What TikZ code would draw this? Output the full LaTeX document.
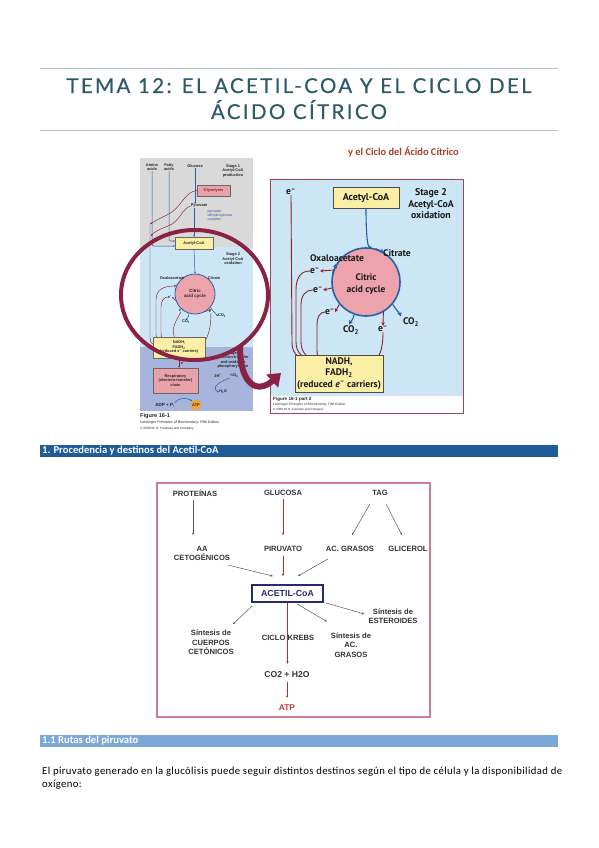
\documentclass[tikz,border=0pt]{standalone}
\usepackage{fontspec}
\setmainfont{Carlito}
\newfontfamily\titlef[LetterSpace=11.5,FakeBold=0.4]{Lato}
\newfontfamily\parf[LetterSpace=3.5]{Carlito}
\newfontfamily\arialf{Liberation Sans}
\newfontfamily\ptf{PT Sans}
\usetikzlibrary{arrows.meta,calc}
\definecolor{titleteal}{HTML}{2B5B6B}
\definecolor{rulegray}{HTML}{B4C4CC}
\definecolor{panelgray}{HTML}{D9D9D9}
\definecolor{panelblue}{HTML}{CCE6F5}
\definecolor{panelviolet}{HTML}{A7B4DB}
\definecolor{cyclepink}{HTML}{EDA3AC}
\definecolor{boxyellow}{HTML}{FBEFA6}
\definecolor{boxpink}{HTML}{E9A2AA}
\definecolor{cycleblue}{HTML}{2A5FA5}
\definecolor{ered}{HTML}{8E1F2B}
\definecolor{ringmaroon}{HTML}{8A2343}
\definecolor{barone}{HTML}{1F5B99}
\definecolor{bartwo}{HTML}{7CA8D8}
\definecolor{diagborder}{HTML}{C77F95}
\definecolor{navy}{HTML}{252B6E}
\definecolor{atpred}{HTML}{CC3838}
\definecolor{handred}{HTML}{A83C2E}
\definecolor{atporange}{HTML}{F2A23C}
\definecolor{txtgray}{HTML}{333333}
\pgfdeclarelayer{back}
\pgfdeclarelayer{lines}
\pgfsetlayers{back,lines,main}
\tikzset{
  titlest/.style={font=\titlef\fontsize{20.5}{24}\selectfont, text=titleteal, inner sep=0, anchor=base},
  tl/.style={font=\arialf\bfseries\fontsize{3.9}{4.5}\selectfont, align=center, inner sep=0, text=black!85},
  fl/.style={font=\ptf\bfseries\fontsize{9.6}{11.5}\selectfont, align=center, inner sep=0, text=black!90},
  dl/.style={font=\arialf\bfseries\fontsize{7.6}{9.4}\selectfont, align=center, inner sep=0, text=txtgray},
  barlab/.style={font=\bfseries\fontsize{10.6}{12}\selectfont, text=white, inner sep=0, anchor=west},
  capt/.style={inner sep=0, anchor=west, text=black!85},
  sbl/.style={draw=cycleblue, line width=0.5pt, -{Stealth[length=2pt,width=1.8pt]}},
  srl/.style={draw=ered, line width=0.45pt, -{Stealth[length=2pt,width=1.8pt]}},
  bla/.style={draw=cycleblue, line width=1.1pt, -{Stealth[length=4.5pt,width=4.5pt]}},
  rra/.style={draw=ered, line width=0.9pt, -{Stealth[length=3.5pt,width=3.5pt]}},
  gar/.style={draw=black!65, line width=0.5pt, -{Stealth[length=2.5pt,width=2.2pt]}},
  gra/.style={draw=atpred!85!black, line width=0.5pt, -{Stealth[length=2.5pt,width=2.2pt]}},
  ybox/.style={fill=boxyellow, draw=black!70, line width=0.6pt},
}
\begin{document}
\begin{tikzpicture}[x=1pt,y=-1pt]
\useasboundingbox (0,0) rectangle (599,848);
\begin{pgfonlayer}{back}
\fill[white] (0,0) rectangle (599,848);
% left panel backgrounds
\fill[panelgray] (140,158) rectangle (253,247);
\fill[panelblue] (140,247) rectangle (253,347);
\fill[panelviolet] (140,347) rectangle (253,411);
% right panel
\fill[panelblue] (270,179) rectangle (463,396);
\draw[ringmaroon!85, line width=0.8pt] (270,179) rectangle (463,413);
% bars
\fill[barone] (40,445) rectangle (558,457);
\fill[bartwo] (40,735) rectangle (558,747);
\draw[diagborder, line width=1.2pt] (157,483) rectangle (430,717);
\end{pgfonlayer}

% ---------------- TITLE ----------------
\draw[rulegray, line width=0.8pt] (40,68) -- (558,68);
\draw[rulegray, line width=0.8pt] (40,130) -- (558,130);
\node[titlest] (title1) at (299,93) {TEMA 12: EL ACETIL-COA Y EL CICLO DEL};
\node[titlest] (title2) at (299,119) {ÁCIDO CÍTRICO};
\node[font=\bfseries\fontsize{10.4}{12}\selectfont, text=handred, inner sep=0, anchor=west] (sub) at (348,152) {y el Ciclo del Ácido Cítrico};

% ---------------- LEFT PANEL ----------------
\node[tl] (amino) at (152,167) {Amino\\acids};
\node[tl] (fatty) at (169,167) {Fatty\\acids};
\node[tl] (glucose) at (195,166) {Glucose};
\node[tl] (st1) at (233,171) {Stage 1\\Acetyl-CoA\\production};
\node[tl, fill=boxpink, draw=black!60, line width=0.3pt, minimum width=33, minimum height=11, text=ered] (lglyc) at (213.5,190.5) {Glycolysis};
\node[tl] (lpyr) at (199,206) {Pyruvate};
\node[tl, text=cycleblue, font=\arialf\fontsize{3.6}{4.2}\selectfont, align=left] (lpdh) at (220,216) {pyruvate\\dehydrogenase\\complex};
\node[tl, fill=boxyellow, draw=black!60, line width=0.3pt, minimum width=38, minimum height=12] (lacoa) at (194,243) {Acetyl-CoA};
\node[tl] (st2) at (233,259) {Stage 2\\Acetyl-CoA\\oxidation};
\node[circle, fill=cyclepink, draw=cycleblue, line width=0.8pt, minimum size=40, inner sep=0] (lcyc) at (195,294) {};
\node[tl, font=\arialf\bfseries\fontsize{4.5}{5.2}\selectfont] (lcyct) at (195,294) {Citric\\acid cycle};
\node[tl] (loxa) at (172,278) {Oxaloacetate};
\node[tl] (lcit) at (214,278) {Citrate};
\node[tl] (le1) at (176,286) {e\textsuperscript{–}};
\node[tl] (le2) at (170,297) {e\textsuperscript{–}};
\node[tl] (le3) at (181,310) {e\textsuperscript{–}};
\node[tl] (le4) at (211,311) {e\textsuperscript{–}};
\node[tl] (lco2a) at (186,322) {CO\textsubscript{2}};
\node[tl] (lco2b) at (222,316) {CO\textsubscript{2}};
\node[tl, fill=boxyellow, draw=black!60, line width=0.3pt, minimum width=52, minimum height=21] (lnadh) at (179,347.5) {NADH,\\FADH\textsubscript{2}\\(reduced e\textsuperscript{–} carriers)};
\node[tl] (st3) at (233,360) {Stage 3\\Electron-transfer\\and oxidative\\phosphorylation};
\node[tl] (le5) at (183,363) {e\textsuperscript{–}};
\node[tl, fill=boxpink, draw=black!60, line width=0.3pt, minimum width=45, minimum height=25] (lresp) at (175.5,380.5) {Respiratory\\(electron-transfer)\\chain};
\node[tl] (l2h) at (218,376) {2H\textsuperscript{+}};
\node[tl] (lo2) at (234,376) {½O\textsubscript{2}};
\node[tl] (lh2o) at (223,392) {H\textsubscript{2}O};
\node[tl, font=\arialf\bfseries\fontsize{4.5}{5}\selectfont] (ladp) at (165,405) {ADP + P\textsubscript{i}};
\node[circle, fill=atporange, inner sep=0, minimum size=11, tl] (latp) at (196,405) {ATP};
\node[capt, font=\arialf\bfseries\fontsize{5.6}{6}\selectfont] (lcap1) at (140,416) {Figure 16-1};
\node[capt, font=\arialf\itshape\fontsize{3.6}{4}\selectfont] (lcap2) at (140,423) {Lehninger Principles of Biochemistry, Fifth Edition};
\node[capt, font=\arialf\fontsize{3.2}{4}\selectfont] (lcap3) at (140,429) {\copyright{} 2008 W. H. Freeman and Company};

\begin{pgfonlayer}{lines}
\draw[sbl, rounded corners=2pt] (amino.south) |- ($(lacoa.west)+(0,3)$);
\draw[sbl, rounded corners=2pt] (fatty.south) |- ($(lacoa.west)+(0,-2)$);
\draw[sbl] (glucose.south) -- (glucose.south |- lpyr.north);
\draw[sbl] (lpyr.south -| lacoa.north) -- (lacoa.north);
\draw[sbl] (lacoa.south) -- (lcyc.north);
\coordinate (letop) at (150,224);
\draw[srl] (lglyc.west) .. controls (185,192) and (182,205) .. (172,212) .. controls (164,217) and (156,220) .. (letop);
\draw[srl] (lpyr.west) .. controls (182,208) and (180,222) .. (168,226) .. controls (160,229) and (154,232) .. (151,236);
\draw[srl] (letop) -- (150,338) .. controls (150,344) and (154,346) .. ($(lnadh.west)+(8,-3)$);
\draw[srl] (lcyc.165) -- (le1.east);
\draw[srl] (le1.west) .. controls (162,286) and (156,291) .. (156,300) -- (156,334) .. controls (156,340) and (159,342) .. ($(lnadh.north west)+(10,4)$);
\draw[srl] (lcyc.200) -- (le2.east);
\draw[srl] (le2.west) .. controls (164,297) and (161,301) .. (161,307) -- (161,333) .. controls (161,338) and (163,340) .. ($(lnadh.north west)+(14,3)$);
\draw[srl] (lcyc.235) -- (le3.north east);
\draw[srl] (le3.south) .. controls (176,322) and (171,326) .. ($(lnadh.north)+(-4,3)$);
\draw[srl] (lcyc.300) -- (le4.north);
\draw[srl] (le4.south) .. controls (211,325) and (209,338) .. ($(lnadh.east)+(-4,-2)$);
\draw[sbl] (lcyc.250) .. controls (189,316) .. (lco2a.north);
\draw[sbl] (lcyc.320) .. controls (212,310) .. (lco2b.west);
\draw[srl] (lnadh.south) -- (lnadh.south |- lresp.north);
\draw[sbl] (lo2.south west) .. controls (213,384) and (213,390) .. (lh2o.west);
\draw[sbl] (ladp.north east) .. controls (178,398) and (186,397) .. (latp.north west);
\end{pgfonlayer}

% ---------------- RIGHT PANEL ----------------
\node[fl, ybox, minimum width=66, minimum height=21, font=\ptf\bfseries\fontsize{10}{12}\selectfont] (rcoa) at (366,197.5) {Acetyl-CoA};
\node[fl, font=\ptf\bfseries\fontsize{9.8}{11.5}\selectfont] (rstage) at (431,204) {Stage 2\\Acetyl-CoA\\oxidation};
\node[circle, fill=cyclepink, draw=cycleblue, line width=1.6pt, minimum size=68, inner sep=0] (rcyc) at (366,282) {};
\node[fl, font=\ptf\bfseries\fontsize{9.4}{11.5}\selectfont] (rcyct) at (366,284) {Citric\\acid cycle};
\node[fl] (roxa) at (337,258) {Oxaloacetate};
\node[fl] (rcit) at (397,253) {Citrate};
\node[fl] (re0) at (291,192) {e\textsuperscript{–}};
\node[fl] (re1) at (315,271) {e\textsuperscript{–}};
\node[fl] (re2) at (318,290) {e\textsuperscript{–}};
\node[fl] (re3) at (330,312) {e\textsuperscript{–}};
\node[fl] (re4) at (383,329) {e\textsuperscript{–}};
\node[fl] (rco2a) at (351,330) {CO\textsubscript{2}};
\node[fl] (rco2b) at (411,322) {CO\textsubscript{2}};
\node[fl, ybox, minimum width=88, minimum height=37] (rnadh) at (339,373.5) {NADH,\\FADH\textsubscript{2}\\(reduced \textit{e}\textsuperscript{–} carriers)};
\coordinate (rin) at ($(rnadh.center)+(-19,-12)$);
\node[capt, font=\arialf\bfseries\fontsize{4.6}{5}\selectfont] (rcap1) at (273,399) {Figure 16-1 part 2};
\node[capt, font=\arialf\itshape\fontsize{3.3}{4}\selectfont] (rcap2) at (273,404.5) {Lehninger Principles of Biochemistry, Fifth Edition};
\node[capt, font=\arialf\fontsize{3}{4}\selectfont] (rcap3) at (273,409.5) {\copyright{} 2008 W. H. Freeman and Company};

\begin{pgfonlayer}{lines}
\draw[bla] (rcoa.south) .. controls (366,238) and (368,247) .. (rcyc.80);
\draw[bla] (rcyc.250) .. controls (353,320) and (351,321) .. ($(rco2a.north)+(-2,-1)$);
\draw[bla] (rcyc.320) .. controls (397,311) and (400,314) .. ($(rco2b.north west)+(-2,-1)$);
\draw[rra] (rcyc.160) -- (re1.east);
\draw[rra] (rcyc.190) -- (re2.east);
\draw[rra] (rcyc.220) -- (re3.east);
\draw[rra] (rcyc.300) -- (re4.north);
\draw[rra] (re0.south) -- (292,343) .. controls (292,356) and (302,361) .. (rin);
\draw[rra] (re1.west) .. controls (302,271) and (296,276) .. (296,290) -- (296,342) .. controls (296,354) and (304,360) .. (rin);
\draw[rra] (re2.west) .. controls (306,290) and (301,295) .. (301,305) -- (301,342) .. controls (301,353) and (308,359) .. (rin);
\draw[rra] (re3.west) .. controls (320,312) and (317,317) .. (317,325) -- (317,350) .. controls (317,355) and (318,358) .. (rin);
\draw[rra] (re4.south) .. controls (383,352) and (378,366) .. ($(rnadh.center)+(20,-6)$);
\end{pgfonlayer}
% rim arrowheads
\draw[bla, line width=1pt] (rcyc.166) -- (rcyc.148);
\draw[bla, line width=1pt] (rcyc.74) -- (rcyc.58);

% maroon ring and arrow
\draw[ringmaroon, line width=4pt] (194.5,295) ellipse [x radius=73.5pt, y radius=65pt];
\draw[ringmaroon, line width=6pt, -{Triangle[length=12pt,width=17pt]}] (240,346) .. controls (240,386) and (258,394) .. (281,373);

% ---------------- SECTION 1 ----------------
\node[barlab] (bar1) at (42,451) {1. Procedencia y destinos del Acetil-CoA};

\node[dl] (prot) at (195,493) {PROTEÍNAS};
\node[dl] (gluc) at (283,493) {GLUCOSA};
\node[dl] (tag) at (380,493) {TAG};
\node[dl] (aa) at (202,553.5) {AA\\CETOGÉNICOS};
\node[dl] (piru) at (283,549) {PIRUVATO};
\node[dl] (acg) at (350,549) {AC. GRASOS};
\node[dl] (glic) at (408,549) {GLICEROL};
\node[dl, draw=navy, line width=1.8pt, text=navy, minimum width=71, minimum height=17, font=\arialf\bfseries\fontsize{8.8}{10}\selectfont] (acoa) at (287.5,593.5) {ACETIL-CoA};
\node[dl] (est) at (393,616) {Síntesis de\\ESTEROIDES};
\node[dl] (cue) at (211,642.5) {Síntesis de\\CUERPOS\\CETÓNICOS};
\node[dl] (kre) at (288,638) {CICLO KREBS};
\node[dl] (sag) at (351,645) {Síntesis de\\AC.\\GRASOS};
\node[dl, font=\arialf\bfseries\fontsize{8.6}{10}\selectfont] (co2) at (287,675) {CO2 + H2O};
\node[dl, text=atpred, font=\arialf\bfseries\fontsize{8.4}{10}\selectfont] (atp) at (287,708) {ATP};

\begin{pgfonlayer}{lines}
\draw[gar] ($(prot.south)+(-2,3.5)$) -- ($(prot.south |- aa.north)+(-2,-11)$);
\draw[gra] ($(gluc.south)+(0,3.5)$) -- ($(piru.north)+(0,-11)$);
\draw[gar] ($(tag.south)+(-10,8)$) -- ($(acg.north)+(2,-11)$);
\draw[gar] ($(tag.south)+(6,8)$) -- ($(glic.north)+(-6,-11)$);
\draw[gar] ($(aa.south)+(26,4)$) -- ($(acoa.north)+(-14.5,-8)$);
\draw[gra] ($(piru.south)+(0,4)$) -- ($(acoa.north)+(-4.5,-8)$);
\draw[gar] ($(acg.south)+(-22,7)$) -- ($(acoa.north)+(10.5,-8)$);
\draw[gar] ($(acoa.south west)+(1,3)$) -- ($(cue.north)+(22,-6)$);
\draw[gra] (acoa.south) -- ($(co2.north)+(0.5,-8)$);
\draw[gar] ($(acoa.south)+(9.5,1)$) -- ($(sag.north)+(-24,-11)$);
\draw[gar] ($(acoa.south east)+(2,0)$) -- ($(est.west)+(-4,-2)$);
\draw[gra] ($(co2.south)+(0,4)$) -- ($(atp.north)+(0,-7)$);
\end{pgfonlayer}

% ---------------- SECTION 1.1 ----------------
\node[barlab] (bar2) at (42,741) {1.1 Rutas del piruvato};
\node[inner sep=0, anchor=base west, font=\parf\fontsize{10.7}{12}\selectfont] (p1) at (42,774) {El piruvato generado en la glucólisis puede seguir distintos destinos según el tipo de célula y la disponibilidad de};
\node[inner sep=0, anchor=base west, font=\parf\fontsize{10.7}{12}\selectfont] (p2) at (42,787) {oxígeno:};
\end{tikzpicture}
\end{document}
